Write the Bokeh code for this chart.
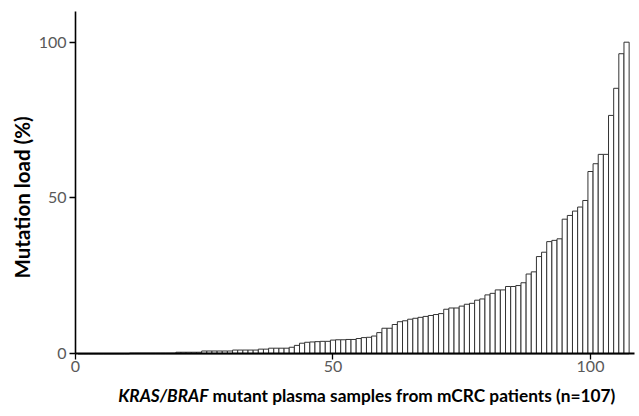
import math
from bokeh.plotting import figure
from bokeh.models import Range1d, FixedTicker
from bokeh.core.properties import value
from bokeh.embed import file_html
from bokeh.resources import INLINE

# Data: sorted mutation load (%) for 107 samples
sample_index = list(range(1, 108))
mutation_load = (
    [0.0] * 10
    + [0.2] * 9
    + [0.5] * 5
    + [0.9] * 6
    + [1.2] * 5
    + [1.5] * 2
    + [1.8] * 4
    + [2.1, 2.7, 3.4, 3.7, 3.8, 3.9, 4.0, 4.0, 4.4, 4.5,
       4.5, 4.6, 4.6, 4.9, 5.2, 5.3, 5.7, 6.8, 8.2, 8.2,
       9.4, 10.3, 10.6, 11.1, 11.4, 11.7, 12.0, 12.3, 12.6, 12.9,
       14.3, 14.7, 14.7, 15.3, 15.9, 16.2, 17.2, 17.6, 18.9, 19.4,
       20.5, 20.5, 21.6, 21.6, 21.9, 22.8, 25.6, 26.3, 31.2, 32.6,
       36.0, 36.4, 36.9, 43.2, 44.4, 45.8, 47.1, 49.2, 58.5, 61.0,
       64.0, 64.0, 76.5, 85.2, 96.3, 100.0]
)
x_ticks = [0, 50, 100]
y_ticks = [0, 50, 100]
x_axis_max = 108.6
y_axis_max = 110
y_label = "Mutation load (%)"
x_label_italic = "KRAS/BRAF"
x_label_rest = "mutant plasma samples from mCRC patients (n=107)"

FONT = "Lato"

# the frame covers the whole canvas; axes sit at data zero
p = figure(width=638, height=414, output_backend="svg", toolbar_location=None,
           x_range=Range1d(-14.56, 109.32), y_range=Range1d(-19.48, 113.38),
           min_border_left=0, min_border_right=0, min_border_top=0, min_border_bottom=0)
p.outline_line_color = None
p.xgrid.grid_line_color = None
p.ygrid.grid_line_color = None
p.background_fill_color = "white"
p.border_fill_color = "white"

p.vbar(x=sample_index, top=mutation_load, width=1.0, bottom=0,
       fill_color="white", line_color="#333333", line_width=1)

for ax, ticks in ((p.xaxis[0], x_ticks), (p.yaxis[0], y_ticks)):
    ax.fixed_location = 0
    ax.ticker = FixedTicker(ticks=ticks)
    ax.axis_line_color = "black"
    ax.axis_line_width = 1.6
    ax.major_tick_line_color = "black"
    ax.major_tick_line_width = 1.3
    ax.major_tick_out = 6
    ax.major_tick_in = 0
    ax.minor_tick_line_color = None
    ax.major_label_text_font = FONT
    ax.major_label_text_font_size = "16px"
    ax.major_label_text_color = "#595959"
    ax.major_label_standoff = 3

p.xaxis[0].bounds = (0, x_axis_max)
p.yaxis[0].bounds = (0, y_axis_max)
p.xaxis[0].axis_line_width = 2.2
p.xaxis[0].major_label_standoff = 1

# y-axis title (rotated) placed to the left of the axis
p.text(x=[0], y=[50.2], text=[y_label], angle=math.pi / 2, x_offset=-53,
       text_font=value(FONT), text_font_style="bold", text_font_size="20.5px",
       text_align="center", text_baseline="middle", text_color="black")

# x-axis title: italic gene names + bold rest
p.text(x=[0], y=[-13.4], text=[x_label_italic], x_offset=133,
       text_font=value(FONT), text_font_style="bold italic", text_font_size="17.3px",
       text_align="right", text_baseline="middle", text_color="black")
p.text(x=[0], y=[-13.4], text=[x_label_rest], x_offset=137,
       text_font=value(FONT), text_font_style="bold", text_font_size="17.3px",
       text_align="left", text_baseline="middle", text_color="black")

open("out.html", "w").write(file_html(p, INLINE))
